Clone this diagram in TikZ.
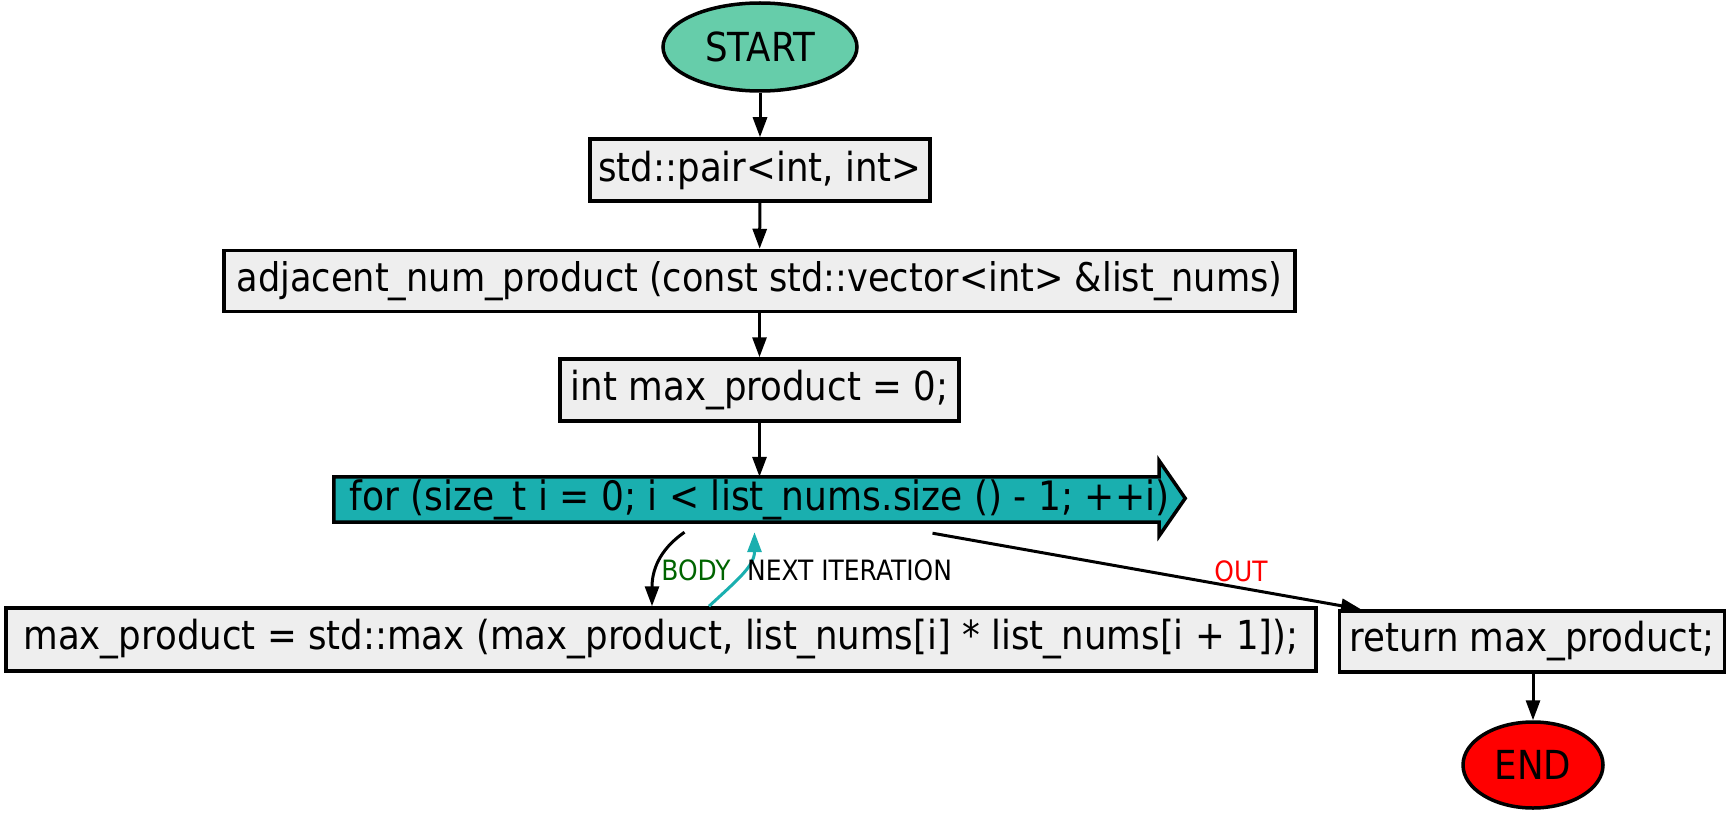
\documentclass[tikz,border=0pt]{standalone}
\usepackage{fontspec}
\setmainfont{DejaVu Sans}[FakeStretch=0.89]
\usetikzlibrary{arrows.meta,shapes.geometric}
\definecolor{startc}{HTML}{66CDAA}
\definecolor{boxc}{HTML}{EEEEEE}
\definecolor{forc}{HTML}{1AAFAF}
\definecolor{bodyc}{HTML}{006400}
\tikzset{
  txt/.style={font=\fontsize{40}{48}\selectfont},
  lbl/.style={font=\fontsize{28}{32}\selectfont, inner sep=0pt},
  stmt/.style={txt, draw, line width=3.5pt, fill=boxc, inner sep=2pt},
  term/.style={txt, ellipse, draw, line width=3.5pt, inner sep=0pt},
  edge/.style={line width=3pt, -{Triangle[length=20pt,width=14pt]}},
}
\begin{document}
\begin{tikzpicture}[x=1pt,y=-1pt]
\useasboundingbox (0,0) rectangle (1731,813);
% terminals
\node[term, fill=startc, minimum width=194pt, minimum height=88pt] (start) at (760,47) {START};
\node[stmt, minimum width=340pt, minimum height=62pt] (pair) at (760,170) {std::pair<int, int>};
\node[stmt, minimum width=1071pt, minimum height=61pt] (adj) at (759.5,281) {\fontsize{39.5}{48}\selectfont adjacent\_num\_product (const std::vector<int> \&list\_nums)};
\node[stmt, minimum width=399pt, minimum height=62pt] (init) at (759.5,390) {int max\_product = 0;};
% for loop arrow shape
\node[txt, minimum width=825pt, minimum height=45pt, inner sep=0pt] (for) at (746.5,499.5) {};
\draw[line width=3.5pt, fill=forc] (for.north west) -- (for.north east) -- ++(0,-16) -- ++(26,37.5) -- ++(-26,37.5) -- (for.south east) -- (for.south west) -- cycle;
\node[txt, inner sep=0pt] (fortext) at (759.5,499.5) {\fontsize{40.5}{48}\selectfont for (size\_t i = 0; i < list\_nums.size () - 1; ++i)};
\node[stmt, minimum width=1310pt, minimum height=63pt] (body) at (661,639.5) {max\_product = std::max (max\_product, list\_nums[i] * list\_nums[i + 1]);};
\node[stmt, minimum width=385pt, minimum height=61pt] (ret) at (1532,641.5) {return max\_product;};
\node[term, fill=red, minimum width=140pt, minimum height=86pt] (end) at (1533,765) {END};
% edges
\draw[edge] (start) -- (pair);
\draw[edge] (pair) -- (adj);
\draw[edge] (adj) -- (init);
\draw[edge] (init.south) -- (init.south |- for.north);
\draw[edge] ([shift={(-62,10)}]for.south) .. controls +(-26,18) and +(0,-35) .. ([xshift=-9]body.north);
\draw[edge, forc] ([xshift=48]body.north) .. controls +(28,-26) and +(0,34) .. ([shift={(8,10)}]for.south);
\draw[edge] ([shift={(186,11)}]for.south) -- ([xshift=-171]ret.north);
\draw[edge] (ret.south -| end.north) -- (end.north);
% labels
\node[lbl, text=bodyc] (lbody) at (696,570) {BODY};
\node[lbl, anchor=west] (lnext) at (747,570) {NEXT ITERATION};
\node[lbl, text=red] (lout) at (1241,571) {OUT};
\end{tikzpicture}
\end{document}
